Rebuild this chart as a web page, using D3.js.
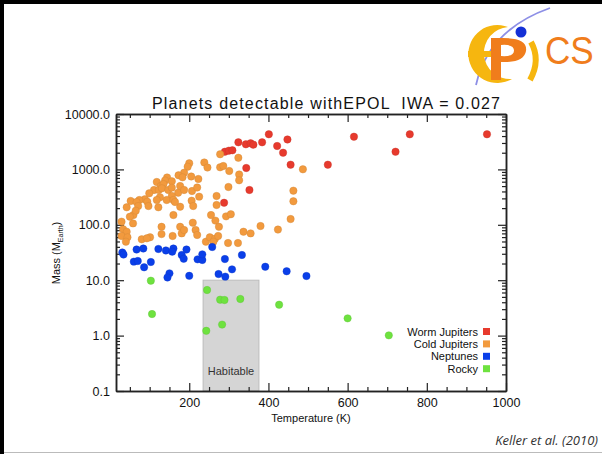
<!DOCTYPE html>
<html>
<head>
<meta charset="utf-8">
<script src="https://cdn.jsdelivr.net/npm/d3@7"></script>
<style>
  body { margin: 0; background: #fff; }
  svg { display: block; font-family: 'Liberation Sans', Arial, sans-serif; }
  .axis path, .axis line { stroke: #222; }
  .axis path { stroke-width: 1.5; }
  .axis text { font-size: 12.5px; fill: #111; font-family: 'Liberation Sans', Arial, sans-serif; }
  .title { white-space: pre; }
</style>
</head>
<body>
<script>
// [temperature K, mass M_earth]
const warmJupiters = [
  [290, 2085], [300, 2177], [309, 2213], [324, 3083], [343, 2838], [355, 2958],
  [362, 2793], [384, 3083], [401, 4303], [422, 2644], [437, 2000], [448, 3467],
  [456, 1216], [550, 1216], [616, 3892], [721, 2085], [757, 4303], [952, 4303],
  [344, 1060], [352, 425], [288, 250]
]

const coldJupiters = [
  [278, 1875], [324, 1620], [238, 1333], [246, 1082], [200, 1288], [196, 1119],
  [278, 1091], [286, 1151], [301, 936], [326, 809], [326, 636], [187, 872],
  [173, 783], [183, 720], [205, 745], [223, 671], [299, 481], [144, 714],
  [139, 631], [156, 610], [118, 593], [128, 501], [135, 545], [111, 425],
  [123, 425], [131, 456], [147, 425], [156, 468], [172, 380], [177, 501],
  [187, 425], [207, 407], [220, 471], [225, 322], [99, 370], [88, 289],
  [74, 280], [52, 269], [67, 258], [94, 261], [126, 314], [118, 280],
  [156, 331], [143, 280], [160, 280], [206, 272], [269, 228], [269, 331],
  [463, 413], [463, 266], [487, 1004], [456, 127], [266, 119], [275, 92],
  [293, 142], [305, 155], [337, 75], [355, 70], [380, 95], [424, 82],
  [242, 49.5], [252, 59.5], [265, 56.1], [298, 46.9], [323, 46.9], [122, 207],
  [177, 212], [210, 218], [59, 150], [50, 140], [160, 150], [255, 150],
  [209, 109], [58, 106], [130, 92], [130, 68], [177, 92], [181, 70],
  [187, 80.5], [216, 80.5], [220, 65.5], [158, 62.8], [33, 83], [42, 75],
  [29, 62.8], [44, 59.5], [40, 49.5], [80, 54.7], [101, 59.5], [261, 49.5],
  [273, 62.8], [93, 57], [29, 114], [42, 207], [71, 218], [97, 218],
  [65, 180], [164, 258]
]

const neptunes = [
  [31, 31.6], [34, 29.1], [60, 21.6], [70, 22.2], [67, 35.8], [84, 37.3],
  [86, 17.1], [103, 21.3], [122, 36.6], [141, 34.4], [160, 37.3], [157, 32.7],
  [181, 28.5], [186, 24.4], [193, 35.8], [221, 23.8], [233, 23.2], [233, 29.3],
  [258, 39.7], [290, 24.1], [308, 15.7], [274, 12.9], [291, 11.6], [200, 12.0],
  [150, 13.3], [145, 11.2], [333, 28.5], [392, 17.5], [446, 14.5], [496, 11.9]
]

const rocky = [
  [103, 9.8], [106, 2.45], [245, 6.65], [278, 4.45], [289, 4.39], [329, 4.58],
  [243, 1.22], [283, 1.58], [427, 3.61], [600, 2.05], [704, 1.01]
]

const habitableZone = [235, 376]
const habitableMassMax = 10

const xMajorTicks = [200, 400, 600, 800, 1000]
const yMajorTicks = [0.1, 1, 10, 100, 1000, 10000]

const seriesNames = ['Worm Jupiters', 'Cold Jupiters', 'Neptunes', 'Rocky']
const seriesColors = ['#e73a2d', '#f29a3e', '#0a3fe9', '#6ee23f']
const seriesData = [warmJupiters, coldJupiters, neptunes, rocky]

const width = 602
const height = 454
const margin = { top: 114, left: 116, right: 96, bottom: 63 }

const svg = d3
  .select('body')
  .append('svg')
  .attr('width', width)
  .attr('height', height)

// slide frame
svg.append('line').attr('x1', 2).attr('x2', 2).attr('y1', 0).attr('y2', height)
  .attr('stroke', '#000').attr('stroke-width', 4)
svg.append('line').attr('x1', 0).attr('x2', width).attr('y1', 2).attr('y2', 2)
  .attr('stroke', '#000').attr('stroke-width', 4)
svg.append('line').attr('x1', 4).attr('x2', width).attr('y1', 452.5).attr('y2', 452.5)
  .attr('stroke', '#bbb').attr('stroke-width', 1)

// EPICS logo
const logo = svg.append('g')
logo.append('path')
  .attr('d', 'M476,85 Q488,30 550,8')
  .attr('fill', 'none').attr('stroke', '#8d8fe6').attr('stroke-width', 1.8)
logo.append('path')
  .attr('d', 'M508,27 A29 29 0 1 0 512,79 A23 23 0 1 1 508,27 Z')
  .attr('fill', '#f6b60f')
logo.append('rect').attr('x', 468).attr('y', 51).attr('width', 26).attr('height', 6)
  .attr('fill', '#f6b60f')
logo.append('path')
  .attr('d', 'M491,38 L503,38 Q528,38 526,51 Q524,63 501,62 L501,80 L491,80 Z M501,45 L501,56 Q514,57 514,50.5 Q514,44 501,45 Z')
  .attr('fill', '#f07d1c').attr('fill-rule', 'evenodd')
logo.append('circle').attr('cx', 521).attr('cy', 32).attr('r', 5.5).attr('fill', '#1430d6')
logo.append('path')
  .attr('d', 'M531,42 Q541,60 530,80')
  .attr('fill', 'none').attr('stroke', '#f6b60f').attr('stroke-width', 6)
logo.append('text')
  .attr('x', 545).attr('y', 64)
  .attr('font-size', 39)
  .attr('fill', '#f07d1c')
  .attr('transform', 'translate(545,0) scale(0.9,1) translate(-545,0)')
  .text('CS')

const x = d3.scaleLinear()
  .domain([15, 1000])
  .range([margin.left, width - margin.right])

const y = d3.scaleLog()
  .domain([0.1, 10000])
  .range([height - margin.bottom, margin.top])

const xMinor = d3.range(50, 1000, 50).filter(d => d % 200 !== 0)
const yMinor = []
yMajorTicks.slice(0, -1).forEach(d => {
  for (let k = 2; k <= 9; k++) yMinor.push(d * k)
})

// habitable zone
svg.append('rect')
  .attr('x', x(habitableZone[0]))
  .attr('y', y(habitableMassMax))
  .attr('width', x(habitableZone[1]) - x(habitableZone[0]))
  .attr('height', y(0.1) - y(habitableMassMax))
  .attr('fill', '#d5d5d5')
  .attr('stroke', '#bcbcbc')

svg.append('text')
  .attr('x', (x(habitableZone[0]) + x(habitableZone[1])) / 2)
  .attr('y', 375)
  .attr('text-anchor', 'middle')
  .attr('font-size', 11)
  .attr('fill', '#333')
  .text('Habitable')

// axes, IDL style with inward ticks on all four sides
const bottomY = height - margin.bottom
const rightX = width - margin.right

function addAxis(axis, transform, labels) {
  const g = svg.append('g').attr('class', 'axis').attr('transform', transform).call(axis)
  if (!labels) g.selectAll('text').remove()
  return g
}

addAxis(d3.axisBottom(x).tickValues(xMajorTicks).tickSize(-8).tickSizeOuter(0)
  .tickPadding(7).tickFormat(d3.format('d')), `translate(0,${bottomY})`, true)
addAxis(d3.axisBottom(x).tickValues(xMinor).tickSize(-4).tickSizeOuter(0),
  `translate(0,${bottomY})`, false)
addAxis(d3.axisTop(x).tickValues(xMajorTicks).tickSize(-8).tickSizeOuter(0),
  `translate(0,${margin.top})`, false)
addAxis(d3.axisTop(x).tickValues(xMinor).tickSize(-4).tickSizeOuter(0),
  `translate(0,${margin.top})`, false)

addAxis(d3.axisLeft(y).tickValues(yMajorTicks).tickSize(-8).tickSizeOuter(0)
  .tickPadding(6).tickFormat(d3.format('.1f')), `translate(${margin.left},0)`, true)
addAxis(d3.axisLeft(y).tickValues(yMinor).tickSize(-4).tickSizeOuter(0),
  `translate(${margin.left},0)`, false)
addAxis(d3.axisRight(y).tickValues(yMajorTicks).tickSize(-8).tickSizeOuter(0),
  `translate(${rightX},0)`, false)
addAxis(d3.axisRight(y).tickValues(yMinor).tickSize(-4).tickSizeOuter(0),
  `translate(${rightX},0)`, false)

svg.selectAll('.axis line').attr('stroke-width', 1.2)

// points
seriesData.forEach((data, i) => {
  svg.append('g')
    .selectAll('circle')
    .data(data)
    .enter()
    .append('circle')
    .attr('cx', d => x(d[0]))
    .attr('cy', d => y(d[1]))
    .attr('r', 3.7)
    .attr('fill', seriesColors[i])
    .attr('stroke', d3.color(seriesColors[i]).darker(0.4))
    .attr('stroke-opacity', 0.5)
    .attr('stroke-width', 0.8)
})

// title and axis labels
svg.append('text')
  .attr('class', 'title')
  .attr('x', 326)
  .attr('y', 109)
  .attr('text-anchor', 'middle')
  .attr('font-size', 16)
  .attr('fill', '#111')
  .attr('textLength', 348)
  .attr('lengthAdjust', 'spacing')
  .text('Planets detectable withEPOL  IWA = 0.027')

svg.append('text')
  .attr('x', (margin.left + rightX) / 2)
  .attr('y', 422)
  .attr('text-anchor', 'middle')
  .attr('font-size', 11)
  .attr('fill', '#111')
  .text('Temperature (K)')

const yLabel = svg.append('text')
  .attr('transform', 'translate(60,253) rotate(-90)')
  .attr('text-anchor', 'middle')
  .attr('font-size', 11)
  .attr('fill', '#111')
yLabel.append('tspan').text('Mass (M')
yLabel.append('tspan').attr('font-size', 7).attr('dy', 3).text('Earth')
yLabel.append('tspan').attr('dy', -3).text(')')

// legend
const legend = svg.append('g')
seriesNames.forEach((name, i) => {
  const ly = 335.5 + i * 12.4
  legend.append('text')
    .attr('x', 478)
    .attr('y', ly)
    .attr('text-anchor', 'end')
    .attr('font-size', 11)
    .attr('fill', '#111')
    .text(name)
  legend.append('rect')
    .attr('x', 483)
    .attr('y', ly - 7.5)
    .attr('width', 7)
    .attr('height', 7)
    .attr('fill', seriesColors[i])
})

svg.append('text')
  .attr('x', 598)
  .attr('y', 445)
  .attr('text-anchor', 'end')
  .attr('font-family', "'Open Sans', sans-serif")
  .attr('font-style', 'italic')
  .attr('font-size', 13)
  .attr('fill', '#333')
  .text('Keller et al. (2010)')
</script>
</body>
</html>
